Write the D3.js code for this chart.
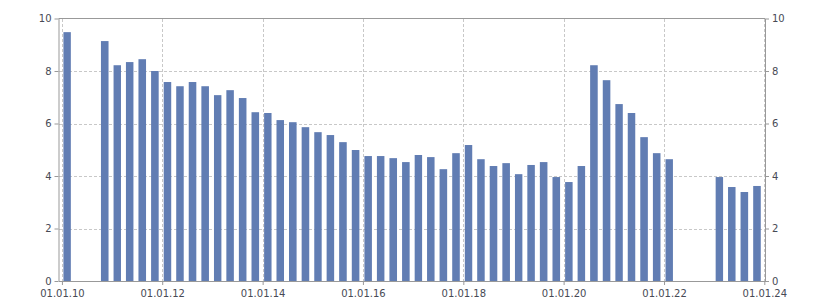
<!DOCTYPE html>
<html>
<head>
<meta charset="utf-8">
<script src="https://cdn.jsdelivr.net/npm/d3@7"></script>
<style>
  body { margin: 0; background: #fff; }
  svg { display: block; }
  .tick text { font-family: "DejaVu Sans", sans-serif; font-size: 10px; fill: #474a55; }
</style>
</head>
<body>
<svg id="chart" width="825" height="300"></svg>
<script>
// quarter start dates, null where there is no value
const quarters = [
  '2010-01-01','2010-04-01','2010-07-01','2010-10-01',
  '2011-01-01','2011-04-01','2011-07-01','2011-10-01',
  '2012-01-01','2012-04-01','2012-07-01','2012-10-01',
  '2013-01-01','2013-04-01','2013-07-01','2013-10-01',
  '2014-01-01','2014-04-01','2014-07-01','2014-10-01',
  '2015-01-01','2015-04-01','2015-07-01','2015-10-01',
  '2016-01-01','2016-04-01','2016-07-01','2016-10-01',
  '2017-01-01','2017-04-01','2017-07-01','2017-10-01',
  '2018-01-01','2018-04-01','2018-07-01','2018-10-01',
  '2019-01-01','2019-04-01','2019-07-01','2019-10-01',
  '2020-01-01','2020-04-01','2020-07-01','2020-10-01',
  '2021-01-01','2021-04-01','2021-07-01','2021-10-01',
  '2022-01-01','2022-04-01','2022-07-01','2022-10-01',
  '2023-01-01','2023-04-01','2023-07-01','2023-10-01'
]
const values = [
  9.48, null, null, 9.14,
  8.22, 8.34, 8.45, 8.00,
  7.58, 7.42, 7.58, 7.42,
  7.08, 7.27, 6.97, 6.43,
  6.40, 6.13, 6.05, 5.86,
  5.67, 5.56, 5.29, 4.99,
  4.76, 4.76, 4.68, 4.53,
  4.80, 4.72, 4.26, 4.87,
  5.18, 4.64, 4.38, 4.49,
  4.07, 4.42, 4.53, 3.96,
  3.77, 4.38, 8.22, 7.65,
  6.74, 6.40, 5.48, 4.87,
  4.64, null, null, null,
  3.96, 3.58, 3.39, 3.62
]
const xTickLabels = ['01.01.10','01.01.12','01.01.14','01.01.16','01.01.18','01.01.20','01.01.22','01.01.24']
const yTicks = [0, 2, 4, 6, 8, 10]

let parse = d3.timeParse('%Y-%m-%d'),
    fmt = d3.timeFormat('%d.%m.%y'),
    tickDates = xTickLabels.map(d3.timeParse('%d.%m.%y'))

let data = quarters.map((q, i) => ({date: parse(q), value: values[i]}))
  .filter(d => d.value !== null)

let plotLeft = 58.5, plotRight = 765, plotTop = 18.5, plotBottom = 281

let svg = d3.select('#chart')

let x = d3.scaleTime()
  .domain([parse('2009-12-07'), parse('2024-01-06')])
  .range([plotLeft, plotRight])

let y = d3.scaleLinear()
  .domain([0, 10])
  .range([plotBottom, plotTop])

// dashed grid
let grid = svg.append('g')
yTicks.filter(v => v > 0 && v < 10).forEach(v => {
  grid.append('line')
    .attr('x1', plotLeft).attr('x2', plotRight)
    .attr('y1', Math.round(y(v)) + 0.5).attr('y2', Math.round(y(v)) + 0.5)
})
tickDates.forEach(d => {
  grid.append('line')
    .attr('x1', Math.round(x(d)) + 0.5).attr('x2', Math.round(x(d)) + 0.5)
    .attr('y1', plotTop).attr('y2', plotBottom)
})
grid.selectAll('line')
  .attr('stroke', '#c8c8c8')
  .attr('stroke-dasharray', '3,2')
  .attr('shape-rendering', 'crispEdges')

// bars: each one sits inside its quarter
svg.append('g')
  .selectAll('rect')
  .data(data)
  .join('rect')
  .attr('x', d => {
    let w = x(d3.timeMonth.offset(d.date, 3)) - x(d.date)
    return x(d.date) + w * 0.12
  })
  .attr('width', d => (x(d3.timeMonth.offset(d.date, 3)) - x(d.date)) * 0.6)
  .attr('y', d => y(d.value))
  .attr('height', d => y(0) - y(d.value))
  .attr('fill', '#617db3')

// frame
svg.append('line')
  .attr('x1', plotLeft).attr('x2', plotRight)
  .attr('y1', plotTop).attr('y2', plotTop)
  .attr('stroke', '#999')

let axisStyle = g => {
  g.select('.domain').attr('stroke', '#999')
  g.selectAll('.tick line').attr('stroke', '#999')
}

svg.append('g')
  .attr('transform', `translate(${plotLeft},0)`)
  .call(d3.axisLeft(y).tickValues(yTicks).tickSize(4).tickSizeOuter(0).tickPadding(3))
  .call(axisStyle)

svg.append('g')
  .attr('transform', `translate(${plotRight},0)`)
  .call(d3.axisRight(y).tickValues(yTicks).tickSize(4).tickSizeOuter(0).tickPadding(3))
  .call(axisStyle)

svg.append('g')
  .attr('transform', `translate(0,${plotBottom})`)
  .call(d3.axisBottom(x).tickValues(tickDates).tickFormat(fmt).tickSize(4).tickSizeOuter(0).tickPadding(5))
  .call(axisStyle)
</script>
</body>
</html>
